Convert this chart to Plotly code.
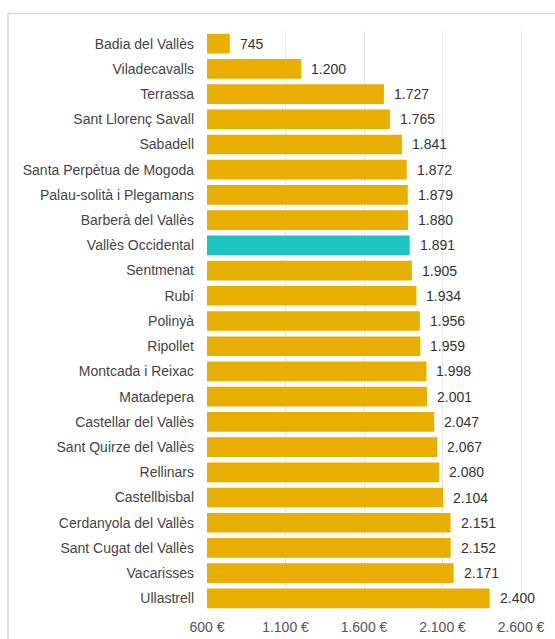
import plotly.graph_objects as go

municipalities = [
    "Badia del Vallès", "Viladecavalls", "Terrassa", "Sant Llorenç Savall", "Sabadell",
    "Santa Perpètua de Mogoda", "Palau-solità i Plegamans", "Barberà del Vallès",
    "Vallès Occidental", "Sentmenat", "Rubí", "Polinyà", "Ripollet", "Montcada i Reixac",
    "Matadepera", "Castellar del Vallès", "Sant Quirze del Vallès", "Rellinars",
    "Castellbisbal", "Cerdanyola del Vallès", "Sant Cugat del Vallès", "Vacarisses", "Ullastrell",
]
values = [745, 1200, 1727, 1765, 1841, 1872, 1879, 1880, 1891, 1905, 1934, 1956, 1959,
          1998, 2001, 2047, 2067, 2080, 2104, 2151, 2152, 2171, 2400]
value_labels = ["745", "1.200", "1.727", "1.765", "1.841", "1.872", "1.879", "1.880", "1.891",
                "1.905", "1.934", "1.956", "1.959", "1.998", "2.001", "2.047", "2.067", "2.080",
                "2.104", "2.151", "2.152", "2.171", "2.400"]
tick_vals = [600, 1100, 1600, 2100, 2600]
tick_text = ["600 €", "1.100 €", "1.600 €", "2.100 €", "2.600 €"]
highlight = "Vallès Occidental"

ORANGE = "#E8AE00"
TEAL = "#1EC3C4"
colors = [TEAL if m == highlight else ORANGE for m in municipalities]

W, H = 555, 639
L, R, T, B = 207, 0, 31, 28
plot_w = W - L - R
plot_h = H - T - B
px_per_unit = 0.157
x_max = 600 + plot_w / px_per_unit
FONT = "Liberation Sans, Arial, Helvetica, sans-serif"

fig = go.Figure()
fig.add_trace(go.Bar(
    y=municipalities, x=values, orientation="h",
    base=0,
    marker=dict(color=colors, line=dict(width=0)),
    width=0.78,
    hoverinfo="x+y",
))

for m, v, lab in zip(municipalities, values, value_labels):
    fig.add_annotation(x=v, y=m, text=lab, showarrow=False, xanchor="left",
                       xshift=8, font=dict(family=FONT, size=14, color="#333333"))

# outer frame of the chart card
fig.add_shape(type="rect", xref="paper", yref="paper",
              x0=(8 - L) / plot_w, x1=(W + 5 - L) / plot_w,
              y0=-(H + 5 - (T + plot_h)) / plot_h, y1=1 + (T - 13.5) / plot_h,
              line=dict(color="#D9D9D9", width=1.5), fillcolor="rgba(0,0,0,0)", layer="below")

fig.update_layout(
    width=W, height=H,
    margin=dict(l=L, r=R, t=T, b=B, pad=0),
    paper_bgcolor="white", plot_bgcolor="white",
    showlegend=False,
    bargap=0.2,
    font=dict(family=FONT, size=14, color="#444444"),
    xaxis=dict(range=[600, x_max], tickvals=tick_vals, ticktext=tick_text,
               showgrid=True, gridcolor="#E6E6E6", gridwidth=1, zeroline=False,
               showline=False, ticks="", ticklabelstandoff=6,
               tickfont=dict(family=FONT, size=14, color="#555555")),
    yaxis=dict(categoryorder="array", categoryarray=municipalities, autorange="reversed",
               showgrid=False, zeroline=False, showline=False, ticks="", ticklabelstandoff=12,
               tickfont=dict(family=FONT, size=14, color="#444444")),
)

fig.write_html("out.html", config={"displayModeBar": False},
               post_script="document.body.style.margin='0';document.body.style.overflow='hidden';")
